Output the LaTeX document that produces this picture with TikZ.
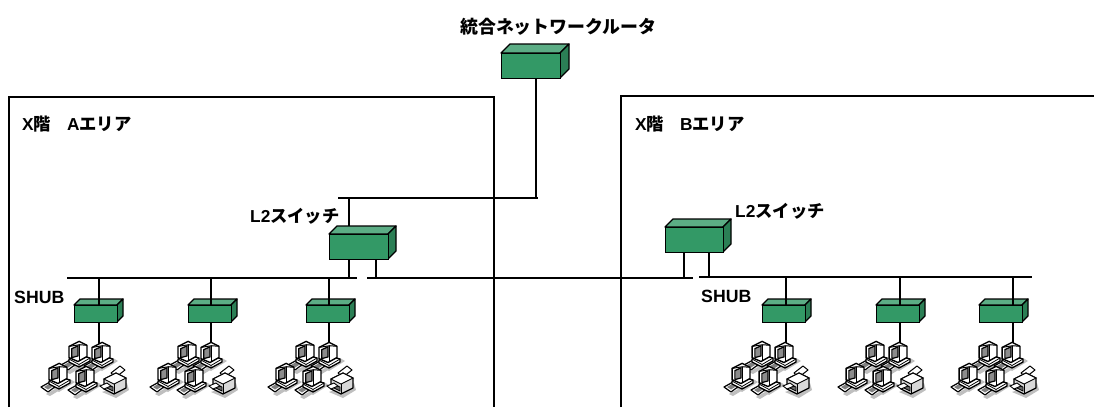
\documentclass[tikz,border=0pt]{standalone}
\usepackage{fontspec}
\setmainfont{Liberation Sans}
\newfontfamily\jpf{Noto Sans CJK JP}
\definecolor{gfront}{HTML}{339966}
\definecolor{gtop}{HTML}{5CAD85}
\definecolor{gside}{HTML}{2B7F55}
\tikzset{
  wire/.style={line width=1.3pt,black},
  frame/.style={line width=1.3pt,black},
  front/.style={draw=black,line width=1.4pt,fill=gfront,rectangle,inner sep=0pt,anchor=north west},
  lab/.style={font=\bfseries,anchor=west,inner sep=0pt,text=black},
  pc/.pic={
    \fill[black!25] (-5,14) -- (12,5) -- (17,8) -- (1,18) -- cycle;
    \fill[black!25] (-12,20) -- (-1,14) -- (2,16) -- (-8,22) -- cycle;
    \draw[fill=white,line width=1.2pt,line join=round] (-17,13) -- (-8,8) -- (-2,12) -- (-10,18) -- cycle;
    \fill[black!50] (-14,13) -- (-8,9.5) -- (-4.5,12) -- (-10,15.5) -- cycle;
    \draw[fill=white,line width=1.3pt,line join=round] (-9,7) -- (1,3) -- (12,6) -- (12,9) -- (1,15) -- (-9,10) -- cycle;
    \draw[line width=0.8pt] (-9,7) -- (1,12.5) -- (12,6) (1,12.5) -- (1,15);
    \begin{scope}[scale=1.12]
    \draw[fill=white,line width=1.4pt,line join=round] (-8,-5) -- (1,-9.5) -- (8,-6) -- (8,4) -- (0,8.5) -- (-8,5) -- cycle;
    \draw[fill=black!45,line width=1.2pt] (-5.5,-3) -- (0,-5.5) -- (0,3.5) -- (-5.5,5) -- cycle;
    \draw[line width=1.2pt] (1.5,-6.5) -- (1.5,7);
    \draw[line width=1pt] (-8,-5) -- (1.5,-6.5) -- (8,-6);
    \end{scope}
  },
  printer/.pic={
    \fill[black!25] (-12,12) -- (2,18) -- (15,10) -- (13,3) -- cycle;
    \draw[fill=white,line width=1pt,line join=round] (-3,-7) -- (6,-14) -- (11,-10) -- (2,-3) -- cycle;
    \draw[fill=black!15,line width=1.2pt,line join=round] (-10,-1) -- (2,-7) -- (12,-2) -- (12,8) -- (0,14) -- (-10,9) -- cycle;
    \draw[fill=white,line width=0.9pt] (-10,-1) -- (2,-7) -- (12,-2) -- (0,4) -- cycle;
    \draw[line width=1pt] (0,4) -- (0,14);
    \draw[fill=black!60,line width=0.8pt] (-9,4) -- (-1,7) -- (-1,11) -- (-9,7) -- cycle;
    \draw[fill=white,line width=0.9pt] (-14,6) -- (-7,3) -- (-3,6) -- (-10,9) -- cycle;
  }
}
\newcommand{\device}[6]{%
  \fill[gtop,draw=black,line width=1.3pt,line join=round] (#2,#3) -- ++(#6,-#6) -- ++(#4,0) -- ++(-#6,#6) -- cycle;
  \fill[gside,draw=black,line width=1.3pt,line join=round] (#2+#4,#3) -- ++(#6,-#6) -- ++(0,#5) -- ++(-#6,#6) -- cycle;
  \node[front,minimum width=#4pt,minimum height=#5pt] (#1) at (#2,#3) {};
}
\newcommand{\cluster}[1]{%
  \pic at (#1+34,352) {pc};
  \pic at (#1+57,353) {pc};
  \pic at (#1+14,374) {pc};
  \pic at (#1+41,377) {pc};
  \pic at (#1+70,380) {printer};
}
\newcommand{\ja}[1]{{\jpf\bfseries #1}}
\begin{document}
\begin{tikzpicture}[x=1pt,y=-1pt]
\useasboundingbox (0,0) rectangle (1094,407);
% area frames
\coordinate (aBL) at (9,407);
\coordinate (aTL) at (9,97);
\coordinate (aTR) at (494,97);
\coordinate (aBR) at (494,407);
\coordinate (bBL) at (621,407);
\coordinate (bTL) at (621,96);
\coordinate (bTR) at (1094,96);
\draw[frame] (aBL) -- (aTL) -- (aTR) -- (aBR);
\draw[frame] (bBL) -- (bTL) -- (bTR);
% wires to PCs
\foreach \n/\x in {a/99,b/211,c/329,d/786,e/900,f/1013}{
  \coordinate (drop\n) at (\x,349);
}
% devices
\device{router}{501}{53}{59}{25}{9}
\device{swa}{329}{234}{59}{25}{8}
\device{swb}{665}{227}{58}{25}{8}
\device{ha}{74}{305}{43}{17}{6}
\device{hb}{188}{305}{43}{17}{6}
\device{hc}{306}{305}{43}{17}{6}
\device{hd}{762}{305}{43}{17}{6}
\device{he}{876}{305}{43}{17}{6}
\device{hf}{979}{305}{43}{17}{6}
% buses
\coordinate (busA) at (67,278);
\coordinate (busAe) at (357,278);
\coordinate (busM) at (367,278);
\coordinate (busMe) at (693,278);
\coordinate (busB) at (699,277);
\coordinate (busBe) at (1032,277);
\coordinate (upW) at (338,198);
\coordinate (upE) at (538,198);
\draw[wire] (busA) -- (busAe);
\draw[wire] (busM) -- (busMe);
\draw[wire] (busB) -- (busBe);
\draw[wire] (upW) -- (upE);
\coordinate (rx) at (536,198);
\coordinate (swaUp) at (349,198);
\coordinate (swaTop) at (349,226);
\draw[wire] (router.south -| rx) -- (rx);
\draw[wire] (swaUp) -- (swaTop);
\coordinate (l1) at (349,278);
\coordinate (l2) at (376,278);
\coordinate (r1) at (684,278);
\coordinate (r2) at (709,277);
\draw[wire] (swa.south -| l1) -- (l1);
\draw[wire] (swa.south -| l2) -- (l2);
\draw[wire] (swb.south -| r1) -- (r1);
\draw[wire] (swb.south -| r2) -- (r2);
\foreach \n in {a,b,c}{
  \draw[wire] (drop\n |- busA) -- (h\n.north -| drop\n);
  \draw[wire] (h\n.south -| drop\n) -- (drop\n);
}
\foreach \n in {d,e,f}{
  \draw[wire] (drop\n |- busB) -- (h\n.north -| drop\n);
  \draw[wire] (h\n.south -| drop\n) -- (drop\n);
}
% clusters
\cluster{44}
\cluster{153}
\cluster{271}
\cluster{727}
\cluster{841}
\cluster{954}
% labels
\node[lab,font=\fontsize{17.9}{20}\selectfont] (t0) at (460,27) {\ja{統合ネットワークルータ}};
\node[lab,font=\fontsize{17.3}{20}\selectfont\bfseries] (t1) at (22,124) {X\ja{階}\hspace{16pt}A\ja{エリア}};
\node[lab,font=\fontsize{17.3}{20}\selectfont\bfseries] (t2) at (635,124) {X\ja{階}\hspace{16pt}B\ja{エリア}};
\node[lab,font=\fontsize{17.3}{20}\selectfont\bfseries] (t3) at (250,216) {L2\ja{スイッチ}};
\node[lab,font=\fontsize{17.3}{20}\selectfont\bfseries] (t4) at (735,211) {L2\ja{スイッチ}};
\node[lab,font=\fontsize{17.7}{20}\selectfont\bfseries] (t5) at (14,297) {SHUB};
\node[lab,font=\fontsize{17.7}{20}\selectfont\bfseries] (t6) at (701,296) {SHUB};
\end{tikzpicture}
\end{document}
